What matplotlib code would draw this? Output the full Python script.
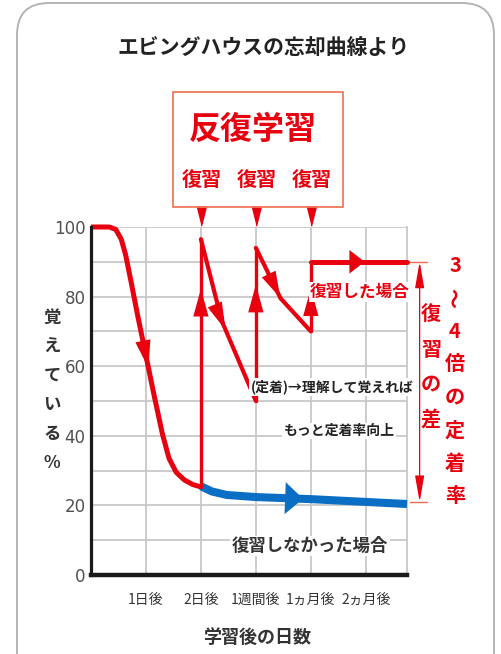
import numpy as np
import matplotlib.pyplot as plt
from matplotlib.patches import FancyBboxPatch, Rectangle
from matplotlib.transforms import IdentityTransform

# --- data ---
ytick_vals = [0, 20, 40, 60, 80, 100]
ygrid_minor = [10, 30, 50, 70, 90]
day_pos = [1, 2, 3, 4, 5]
day_labels = ['1日後', '2日後', '1週間後', '1ヵ月後', '2ヵ月後']

# forgetting curve until the first review (2日後)
forget_x = [0, 0.33, 0.45, 0.55, 0.63, 0.72, 0.85, 1.0, 1.15, 1.3, 1.42, 1.55, 1.7, 1.85, 2.0]
forget_y = [100, 100, 99.3, 96.5, 92, 85, 74.5, 63, 51.5, 40.5, 33.5, 29.5, 27.3, 26, 25.3]

# with review: jump up, forget, jump up, forget, jump up, stay
review_x = [2.0, 2.0, 2.38, 3.0, 3.0, 3.45, 4.0, 4.0, 5.75]
review_y = [25.3, 96.5, 73, 50, 94, 79.5, 70, 90, 90]

# without review
blue_x = [2.0, 2.2, 2.47, 3.0, 4.0, 5.0, 5.75]
blue_y = [25.5, 24.0, 23.0, 22.4, 21.8, 21.0, 20.4]

RED = '#e8000e'
BLUE = '#0a6fc4'
JP = ['Noto Sans CJK JP', 'DejaVu Sans']

W, H = 501, 654
fig = plt.figure(figsize=(W / 100, H / 100), dpi=100)


def fx(x):
    return x / W


def fy(y):
    return 1 - y / H


def ftext(x, y, s, **kw):
    kw.setdefault('family', JP)
    kw.setdefault('ha', 'center')
    kw.setdefault('va', 'center')
    return fig.text(fx(x), fy(y), s, **kw)


def vtext(x, y0, s, pitch, **kw):
    # stacked (tategaki) text, one character per row
    for i, c in enumerate(s):
        rot = 90 if c in '～〜' else 0
        ftext(x, y0 + i * pitch, c, rotation=rot, **kw)


# outer rounded frame
frame = FancyBboxPatch((17, -60), 477, 711, boxstyle='round,pad=0,rounding_size=32',
                       transform=IdentityTransform(), fill=False, ec='#b4b4b4', lw=1.4)
fig.add_artist(frame)

ax = fig.add_axes([fx(91), fy(575), (407 - 91) / W, (575 - 227) / H])
ax.set_xlim(0, 5.75)
ax.set_ylim(0, 100)

ax.set_yticks(ytick_vals)
ax.set_yticks(ygrid_minor, minor=True)
ax.set_xticks(day_pos)
ax.set_xticklabels(day_labels, family=JP, fontsize=10, color='#333333')
ax.set_yticklabels([str(v) for v in ytick_vals], fontsize=12, color='#505050')
ax.tick_params(which='both', length=0)
ax.tick_params(axis='x', pad=13)
ax.tick_params(axis='y', pad=4)
ax.grid(which='both', color='#c8c8c8', lw=1.3)
ax.set_axisbelow(True)

ax.spines['top'].set_visible(False)
ax.spines['right'].set_color('#c8c8c8')
ax.spines['right'].set_linewidth(1.3)
ax.spines['left'].set_color('#1a1a1a')
ax.spines['left'].set_linewidth(2.3)
ax.spines['bottom'].set_color('#1a1a1a')
ax.spines['bottom'].set_linewidth(3.2)
ax.spines['left'].set_zorder(5)
ax.spines['bottom'].set_zorder(5)


def head(xs, ys, frac, length, half_width, color):
    pts = ax.transData.transform(np.column_stack([xs, ys]))
    seg = np.hypot(*np.diff(pts, axis=0).T)
    cum = np.concatenate([[0], np.cumsum(seg)])
    d = frac * cum[-1]
    i = int(np.clip(np.searchsorted(cum, d) - 1, 0, len(seg) - 1))
    while seg[i] == 0:
        i += 1
    t = (d - cum[i]) / seg[i]
    tip = pts[i] + t * (pts[i + 1] - pts[i])
    direc = (pts[i + 1] - pts[i]) / seg[i]
    inv = ax.transData.inverted()
    tip_d = inv.transform(tip)
    base_d = inv.transform(tip - direc * 6)
    ax.annotate('', xy=tip_d, xytext=base_d, annotation_clip=False,
                arrowprops=dict(arrowstyle=f'-|>,head_length={length},head_width={half_width}',
                                fc=color, ec='none', lw=0, shrinkA=0, shrinkB=0,
                                mutation_scale=10), zorder=6)


# blue: no review
ax.plot(blue_x, blue_y, color=BLUE, lw=5.8, solid_capstyle='butt', zorder=3, clip_on=False)
head(blue_x, blue_y, 0.5, 1.3, 1.15, BLUE)

# red forgetting curve
ax.plot(forget_x, forget_y, color=RED, lw=3.6, solid_joinstyle='round',
        solid_capstyle='butt', zorder=4, clip_on=False)
head(forget_x, forget_y, 0.55, 2.0, 0.55, RED)

# red review path, segment by segment
seg_lw = [2.4, 3.0, 3.0, 2.4, 3.0, 3.0, 2.4, 3.6]
for k in range(len(review_x) - 1):
    ax.plot(review_x[k:k + 2], review_y[k:k + 2], color=RED, lw=seg_lw[k],
            solid_capstyle='round', zorder=4, clip_on=False)

head(review_x[0:2], review_y[0:2], 0.8, 2.0, 0.55, RED)
head(review_x[1:4], review_y[1:4], 0.55, 2.0, 0.55, RED)
head(review_x[3:5], review_y[3:5], 0.76, 2.0, 0.55, RED)
head(review_x[4:7], review_y[4:7], 0.55, 1.9, 0.55, RED)
head(review_x[6:8], review_y[6:8], 0.62, 2.0, 0.55, RED)
head(review_x[7:9], review_y[7:9], 0.56, 1.1, 0.85, RED)

# review markers below the box
ax.plot(day_pos[1:4], [103.2] * 3, ls='none', marker=[(-0.5, 1), (0.5, 1), (0, -1)],
        ms=14, color=RED, clip_on=False, zorder=6)

# difference bracket on the right
bx = 5.98
top, bot = review_y[-1], blue_y[-1] + 0.6
ax.plot([5.8, 6.11], [top, top], color='#f06a50', lw=1, clip_on=False)
ax.plot([5.8, 6.11], [bot, bot], color='#f06a50', lw=1, clip_on=False)
ax.annotate('', xy=(bx, top), xytext=(bx, bot), annotation_clip=False,
            arrowprops=dict(arrowstyle='<|-|>,head_length=1.6,head_width=0.28',
                            color=RED, lw=0.9, shrinkA=0, shrinkB=0, mutation_scale=10))

# --- texts ---
ftext(264, 47, 'エビングハウスの忘却曲線より', fontsize=15, weight='bold', color='#222222')

fig.add_artist(Rectangle((fx(173), fy(207)), (343 - 173) / W, (207 - 92) / H,
                         transform=fig.transFigure, fill=False, ec='#f07a5a', lw=1.3))
ftext(253, 130, '反復学習', fontsize=23, weight='bold', color=RED)
for xp in (202, 257, 312):
    ftext(xp, 180, '復習', fontsize=14.5, weight='bold', color=RED)

wbox = dict(facecolor='white', edgecolor='none', pad=1)
ftext(360, 292, '復習した場合', fontsize=12, weight='bold', color=RED, bbox=wbox)
ftext(332, 387, '(定着)→理解して覚えれば', fontsize=10, weight='bold', color='#222222', bbox=wbox)
ftext(339, 431, 'もっと定着率向上', fontsize=10, weight='bold', color='#222222', bbox=wbox)
ftext(310, 546, '復習しなかった場合', fontsize=12.5, weight='bold', color='#333333', bbox=wbox)

vtext(431, 314, '復習の差', 35, fontsize=14.5, weight='bold', color=RED)
vtext(455, 265, '3～4倍の定着率', 33, fontsize=14.5, weight='bold', color=RED)

vtext(52, 318, '覚えている%', 29, fontsize=12.5, weight='bold', color='#333333')
ftext(257, 637, '学習後の日数', fontsize=13, weight='bold', color='#333333')

fig.savefig('out.png', dpi=100)
